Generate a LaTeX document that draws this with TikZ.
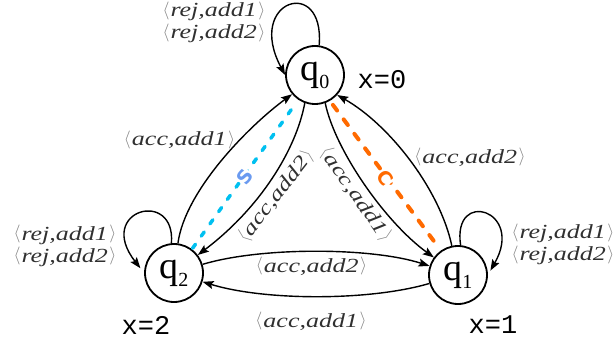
\RequirePackage{fix-cm}
\documentclass[tikz,border=0pt]{standalone}
\usepackage{fontspec}
\setmainfont{Liberation Serif}
\newfontfamily\lblfont[FakeStretch=1.3]{Liberation Serif}
\newfontfamily\xmono{Liberation Mono}
\newfontfamily\scfont{DejaVu Sans}
\usetikzlibrary{arrows.meta}
\definecolor{lbl}{HTML}{303030}
\definecolor{brk}{HTML}{858585}
\definecolor{cyanl}{HTML}{00C0F0}
\definecolor{sblue}{HTML}{6A9AF0}
\definecolor{orl}{HTML}{FF6A00}
\newcommand{\brk}[1]{\textcolor{brk}{\raisebox{1.5pt}{\fontsize{18}{18}\selectfont$#1$}}}
\newcommand{\ab}[1]{\brk{\langle}\kern1pt#1\kern1.5pt\brk{\rangle}}
\newcommand{\stq}[1]{{\fontsize{38}{38}\selectfont q\kern-0.5pt\raisebox{-8pt}{\fontsize{20}{20}\selectfont #1}}}
\begin{document}
\begin{tikzpicture}[x=1pt,y=-1pt,
  state/.style={circle,draw,line width=1.8pt,minimum size=58pt,inner sep=0pt},
  edge/.style={line width=1.4pt,-{Stealth[length=11pt,width=8pt,inset=2pt]}},
  lab/.style={font=\lblfont\itshape\fontsize{20}{22}\selectfont,text=lbl,inner sep=0pt,align=left},
  xlab/.style={font=\xmono\fontsize{27}{27}\selectfont,inner sep=0pt},
  cyandash/.style={draw=cyanl,line width=3.5pt,line cap=round,dash pattern=on 5pt off 10pt},
  oradash/.style={draw=orl,line width=4pt,line cap=round,dash pattern=on 7pt off 11pt},
  sclab/.style={font=\scfont\bfseries\fontsize{19}{19}\selectfont,inner sep=0.6pt,fill=white}]
\useasboundingbox (0,0) rectangle (616,342);

\node[state] (q0) at (315,75) {\stq{0}};
\node[state] (q2) at (174,273) {\stq{2}};
\node[state] (q1) at (458,275) {\stq{1}};

\node[xlab] (x0) at (382,80) {x=0};
\node[xlab] (x2) at (146,325) {x=2};
\node[xlab] (x1) at (493,325) {x=1};

% dashed lines
\draw[cyandash,shorten <=1pt,shorten >=6pt] (q2.53) -- (q0.236);
\draw[oradash,shorten <=5pt,shorten >=5pt] (q0.300) -- (q1.125);
\node[sclab,text=sblue,rotate=54] (S) at (245,177) {S};
\node[sclab,text=orl,rotate=-53] (C) at (385,178) {C};

% loops
\draw[edge] (q0.82) .. controls (325,-25) and (245,0) .. (q0.west);
\draw[edge,shorten >=6pt] (q2.95) .. controls (176,188) and (95,210) .. (q2.west);
\draw[edge,shorten >=5pt] (q1.85) .. controls (452,188) and (525,210) .. (q1.east);

% diagonal edges
\draw[edge] (q2) .. controls (185,190) and (250,125) .. (q0.220);
\draw[edge] (q0.250) .. controls (296,150) and (260,208) .. (q2);
\draw[edge] (q0.290) .. controls (335,150) and (385,222) .. (q1);
\draw[edge] (q1) .. controls (440,190) and (390,125) .. (q0.318);

% bottom edges
\draw[edge] (q2) .. controls (260,247) and (370,247) .. (q1);
\draw[edge] (q1) .. controls (370,301) and (265,301) .. (q2);

% labels
\node[lab] (l0) at (214,22.5) {\ab{rej,add1}\\\ab{rej,add2}};
\node[lab] (l2) at (65,246) {\ab{rej,add1}\\\ab{rej,add2}};
\node[lab] (l1) at (563,244.5) {\ab{rej,add1}\\\ab{rej,add2}};
\node[lab] (a1) at (179.5,140) {\ab{acc,add1}};
\node[lab,rotate=52] (a2) at (276,196) {\ab{acc,add2}};
\node[lab,rotate=-55] (a3) at (356,194) {\ab{acc,add1}};
\node[lab] (a4) at (470,157.5) {\ab{acc,add2}};
\node[lab] (a5) at (311.5,266.5) {\ab{acc,add2}};
\node[lab] (a6) at (311,321.5) {\ab{acc,add1}};
\end{tikzpicture}
\end{document}
